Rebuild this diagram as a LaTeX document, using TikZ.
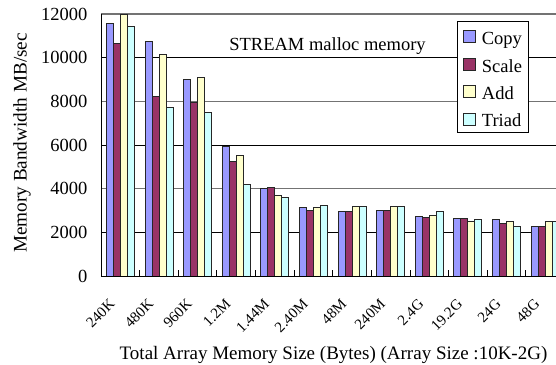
\documentclass[tikz,border=0pt]{standalone}
\usepackage{fontspec}
\setmainfont{Liberation Serif}
\definecolor{cCopy}{HTML}{9999FF}
\definecolor{cScale}{HTML}{993366}
\definecolor{cAdd}{HTML}{FFFFCC}
\definecolor{cTriad}{HTML}{CCFFFF}
\begin{document}
\begin{tikzpicture}[x=1pt,y=-1pt,
  every node/.style={inner sep=0pt, font=\fontsize{18.5}{20}\selectfont},
  ticklab/.style={font=\fontsize{15}{16}\selectfont},
  barline/.style={draw=black!85, line width=0.8pt},
  gridblack/.style={draw=black, line width=0.8pt},
  gridgray/.style={draw=black!55, line width=1.2pt},
  axisline/.style={draw=black, line width=1pt},
  swatch/.style={draw=black!85, line width=0.8pt, minimum size=12pt, inner sep=0pt}]
\useasboundingbox (0,0) rectangle (556,364);
\begin{scope}
\clip (0,0) rectangle (556,364);
% gridlines
\foreach \v/\st in {2000/gridblack,4000/gridgray,6000/gridblack,8000/gridgray,10000/gridblack,12000/gridgray}{
  \pgfmathsetmacro\yy{276-\v*0.0218333}
  \draw[\st] (101,\yy) -- (556,\yy);
}
% bars
\foreach \lab/\va/\vb/\vc/\vd [count=\i from 0] in {
  240K/11574/10658/12000/11418,
  480K/10733/8244/10154/7727,
  960K/9008/7938/9100/7496,
  1.2M/5954/5267/5542/4200,
  1.44M/4017/4063/3710/3618,
  2.40M/3130/3023/3130/3220,
  48M/2946/2946/3175/3175,
  240M/3023/2992/3175/3175,
  2.4G/2733/2687/2794/2946,
  19.2G/2642/2642/2504/2596,
  24G/2596/2397/2504/2275,
  48G/2290/2290/2504/2504}{
  \pgfmathsetmacro\xo{106.3+\i*38.62}
  \pgfmathsetmacro\ya{276-\va*0.0218333}
  \pgfmathsetmacro\yb{276-\vb*0.0218333}
  \pgfmathsetmacro\yc{276-\vc*0.0218333}
  \pgfmathsetmacro\yd{276-\vd*0.0218333}
  \draw[barline, fill=cCopy] (\xo,276) rectangle ({\xo+7},\ya);
  \draw[barline, fill=cScale] ({\xo+7},276) rectangle ({\xo+14},\yb);
  \draw[barline, fill=cAdd] ({\xo+14},276) rectangle ({\xo+21},\yc);
  \draw[barline, fill=cTriad] ({\xo+21},276) rectangle ({\xo+28},\yd);
  \node[ticklab, rotate=45, anchor=east] (lab\i) at ({101+(\i+0.5)*38.62-8}, 301.5) {\lab};
}
% axes
\coordinate (o) at (101,276);
\coordinate (top) at (101,14);
\coordinate (xr) at (556,276);
\draw[axisline] (top) -- (o) -- (xr);
\foreach \k in {1,...,11}{
  \draw[black, line width=0.8pt] ({101+\k*38.62},276) -- ++(0,-6);
}
\end{scope}
% y tick labels
\foreach \v in {0,2000,4000,6000,8000,10000,12000}{
  \pgfmathsetmacro\yy{276-\v*0.0218333}
  \node[anchor=east] (yt\v) at (87.5,\yy) {\v};
}
% titles
\node[rotate=90, anchor=base, font=\fontsize{19.2}{20}\selectfont] (ytitle) at (26.5,143) {Memory Bandwidth MB/sec};
\node[anchor=base, font=\fontsize{19}{20}\selectfont] (xtitle) at (333.5,359.3) {Total Array Memory Size (Bytes) (Array Size :10K-2G)};
\node[anchor=base] (ptitle) at (327.5,50) {STREAM malloc memory};
% legend
\node[draw=black, line width=0.8pt, fill=white, minimum width=71pt, minimum height=110.4pt, anchor=north west] (legend) at (457.3,21.3) {};
\foreach \n/\c/\yy in {Copy/cCopy/36.8, Scale/cScale/64.5, Add/cAdd/91.7, Triad/cTriad/119}{
  \node[swatch, fill=\c] (sw\n) at (469.5,\yy) {};
  \node[anchor=base west] (lt\n) at (481.7,{\yy+7.5}) {\n};
}
\end{tikzpicture}
\end{document}
